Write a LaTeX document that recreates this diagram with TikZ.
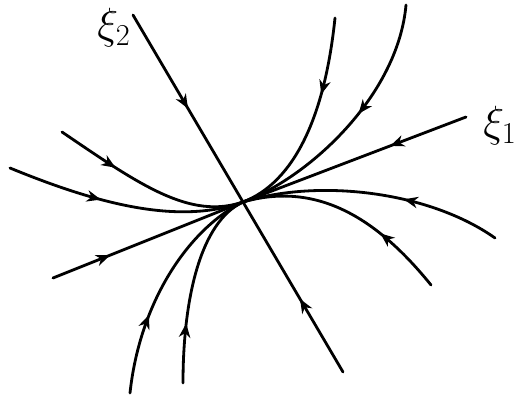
\documentclass[tikz,border=0pt]{standalone}
\usepackage{tikz}
\usetikzlibrary{arrows.meta,decorations.markings}
\tikzset{
  ndaxis/.style={line width=1.6pt, draw=black, line cap=round},
  ndtraj/.style={line width=1.6pt, draw=black, line cap=round},
  ndflow/.style={postaction={decorate}, decoration={markings,
    mark=at position #1 with {\arrow{Stealth[length=8pt,width=6.5pt,inset=2.5pt]}}}},
  ndlabel/.style={font=\fontsize{26}{30}\selectfont, inner sep=0pt},
}

\begin{document}
\begin{tikzpicture}[x=0.02cm,y=-0.02cm]
\useasboundingbox (0,0) rectangle (518,399);
\coordinate (O) at (243,202);
\coordinate (e2top) at (133,15);
\coordinate (e2bot) at (343,372);
\coordinate (e1right) at (466,117);
\coordinate (e1left) at (53,278);
\coordinate (tA) at (335,18);
\coordinate (tB) at (406,5);
\coordinate (tC) at (495,238);
\coordinate (tD) at (431,285);
\coordinate (tE) at (62,132);
\coordinate (tF) at (10,168);
\coordinate (tG) at (130,393);
\coordinate (tH) at (183,383);
% eigen directions
\draw[ndaxis, ndflow=0.5] (e2top) -- (O);
\draw[ndaxis, ndflow=0.43] (e2bot) -- (O);
\draw[ndaxis, ndflow=0.34] (e1right) -- (O);
\draw[ndaxis, ndflow=0.3] (e1left) -- (O);
% trajectories
\draw[ndtraj, ndflow=0.36] (tA) .. controls (325,115) and (295,182) .. (O);
\draw[ndtraj, ndflow=0.45] (tB) .. controls (398,95) and (310,177) .. (O);
\draw[ndtraj, ndflow=0.38] (tC) .. controls (430,192) and (320,178) .. (O);
\draw[ndtraj, ndflow=0.33] (tD) .. controls (380,222) and (320,180) .. (O);
\draw[ndtraj, ndflow=0.32] (tE) .. controls (140,185) and (190,220) .. (O);
\draw[ndtraj, ndflow=0.4] (tF) .. controls (100,205) and (180,225) .. (O);
\draw[ndtraj, ndflow=0.35] (tG) .. controls (140,300) and (190,228) .. (O);
\draw[ndtraj, ndflow=0.3] (tH) .. controls (183,300) and (200,222) .. (O);
\node[ndlabel] (xi2) at (114,28) {$\xi_2$};
\node[ndlabel] (xi1) at (500,126) {$\xi_1$};
\end{tikzpicture}
\end{document}
